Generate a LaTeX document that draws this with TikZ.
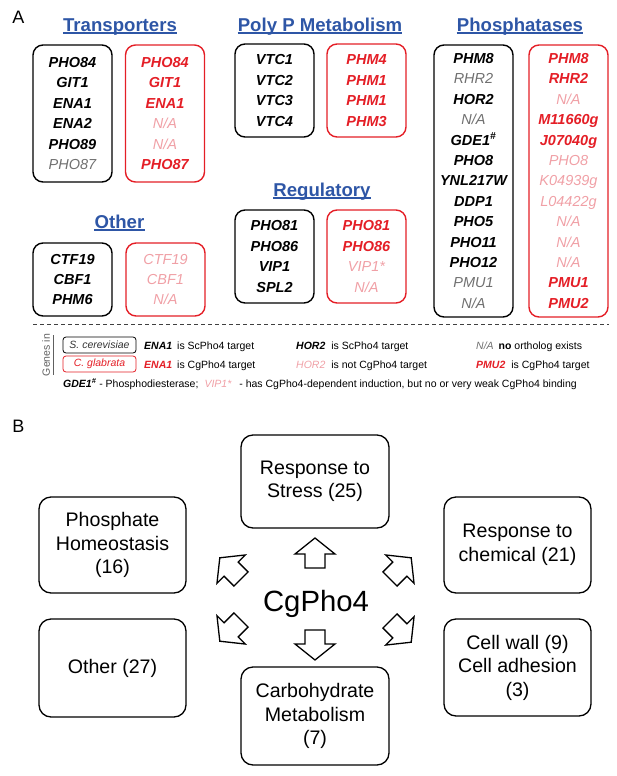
\documentclass[tikz,border=0pt]{standalone}
\usepackage{fontspec}
\setmainfont{Liberation Sans}
\usetikzlibrary{positioning}

\definecolor{hdrblue}{HTML}{2E56A6}
\definecolor{cgred}{HTML}{E41E26}
\definecolor{cgpink}{HTML}{F0A0A6}
\definecolor{scgray}{HTML}{707070}
\definecolor{lgdgray}{HTML}{606060}

\newcommand{\genefont}{\fontsize{14.5}{20.4}\selectfont\bfseries\itshape}
\newcommand{\hdrfont}{\fontsize{18.6}{22}\selectfont\bfseries}
\newcommand{\lgdfont}{\fontsize{10.5}{12.6}\selectfont}
\newcommand{\catfont}{\fontsize{19.6}{23.5}\selectfont}
\newcommand{\bigfont}{\fontsize{29.3}{34}\selectfont}
\newcommand{\nsc}[1]{{\mdseries\color{scgray}#1}}   % not a target, S. cerevisiae
\newcommand{\ncg}[1]{{\mdseries\color{cgpink}#1}}   % not a target, C. glabrata
\newcommand{\blockarrow}[3]{\draw[barrow, shift={(#1,#2)}, rotate=#3]
  (-15,-10) -- (-1,-10) -- (-1,-20) -- (15,0) -- (-1,20) -- (-1,10) -- (-15,10) -- cycle;}

\begin{document}
\begin{tikzpicture}[x=1pt, y=-1pt,
  scbox/.style={draw=black, line width=1.4pt, rounded corners=10pt, minimum width=79pt,
    align=center, font=\genefont, inner sep=0pt},
  cgbox/.style={scbox, draw=cgred, text=cgred},
  hdr/.style={font=\hdrfont, text=hdrblue, inner sep=0pt, anchor=base},
  hdrline/.style={hdrblue, line width=1.4pt},
  lgd/.style={font=\lgdfont, inner sep=0pt, anchor=base west},
  lgdbox/.style={draw, line width=0.8pt, rounded corners=3pt, minimum width=73pt,
    minimum height=16pt, inner sep=0pt, font=\lgdfont\itshape},
  catbox/.style={draw, line width=1.3pt, rounded corners=12pt, align=center,
    font=\catfont, inner sep=0pt},
  barrow/.style={draw, line width=1.3pt, fill=white, line join=miter}]

\useasboundingbox (0,0) rectangle (617,776);

% panel letters
\node[font=\fontsize{18}{20}\selectfont, inner sep=0pt] (pa) at (18.5,17.5) {A};
\node[font=\fontsize{18}{20}\selectfont, inner sep=0pt] (pb) at (18.5,426.5) {B};

% headers
\node[hdr] (trhd) at (120,31.5) {Transporters};
\node[hdr] (pphd) at (320,31.5) {Poly P Metabolism};
\node[hdr] (phhd) at (520,31.5) {Phosphatases};
\node[hdr] (rghd) at (322,196.5) {Regulatory};
\node[hdr] (othd) at (119.5,228.5) {Other};
\foreach \h in {trhd, pphd, phhd, rghd, othd}
  \draw[hdrline] ([yshift=-1.5pt]\h.base west) -- ([yshift=-1.5pt]\h.base east);

% gene boxes
\node[scbox, minimum height=137pt] (trsc) at (72.5,113.5)
  {PHO84\\GIT1\\ENA1\\ENA2\\PHO89\\\nsc{PHO87}};
\node[cgbox, minimum height=137pt] (trcg) at (165,113.5)
  {PHO84\\GIT1\\ENA1\\\ncg{N/A}\\\ncg{N/A}\\PHO87};
\node[scbox, minimum height=93pt] (ppsc) at (274.5,90.5) {VTC1\\VTC2\\VTC3\\VTC4};
\node[cgbox, minimum height=93pt] (ppcg) at (366.5,90.5) {PHM4\\PHM1\\PHM1\\PHM3};
\node[scbox, minimum height=93pt] (rgsc) at (274.5,256.5) {PHO81\\PHO86\\VIP1\\SPL2};
\node[cgbox, minimum height=93pt] (rgcg) at (366.5,256.5)
  {PHO81\\PHO86\\\ncg{VIP1*}\\\ncg{N/A}};
\node[scbox, minimum height=73pt] (otsc) at (72.5,279.5) {CTF19\\CBF1\\PHM6};
\node[cgbox, minimum height=73pt] (otcg) at (165.5,279.5)
  {\ncg{CTF19}\\\ncg{CBF1}\\\ncg{N/A}};
\node[scbox, minimum height=272pt] (phsc) at (473.5,181)
  {PHM8\\\nsc{RHR2}\\HOR2\\\nsc{N/A}\\GDE1\textsuperscript{\#}\\PHO8\\YNL217W\\DDP1\\PHO5\\PHO11\\PHO12\\\nsc{PMU1}\\\nsc{N/A}};
\node[cgbox, minimum height=272pt] (phcg) at (568.5,181)
  {PHM8\\RHR2\\\ncg{N/A}\\M11660g\\J07040g\\\ncg{PHO8}\\\ncg{K04939g}\\\ncg{L04422g}\\\ncg{N/A}\\\ncg{N/A}\\\ncg{N/A}\\PMU1\\PMU2};

% legend
\draw[black!75, line width=0.8pt, dash pattern=on 4pt off 3pt] (33,324) -- (609,324);
\node[font=\lgdfont, text=lgdgray, rotate=90, inner sep=0pt] (genes) at (46,355) {Genes in};
\draw[lgdgray, line width=0.8pt] (53,335) -- (53,375);
\node[lgdbox, text=black!80] (lsc) at (99.5,345) {S. cerevisiae};
\node[lgdbox, draw=cgred, text=cgred] (lcg) at (99.5,364) {C. glabrata};
\node[lgd] (l1a) at (144,349) {\textbf{\textit{ENA1}}\hspace{5pt}is ScPho4 target};
\node[lgd] (l1b) at (296,349) {\textbf{\textit{HOR2}}\hspace{6pt}is ScPho4 target};
\node[lgd] (l1c) at (476,349) {\textit{\color{scgray}N/A}\hspace{5pt}\textbf{no} ortholog exists};
\node[lgd] (l2a) at (144,368) {\textbf{\textit{\color{cgred}ENA1}}\hspace{5pt}is CgPho4 target};
\node[lgd] (l2b) at (296,368) {\textit{\color{cgpink}HOR2}\hspace{6pt}is not CgPho4 target};
\node[lgd] (l2c) at (476,368) {\textbf{\textit{\color{cgred}PMU2}}\hspace{6pt}is CgPho4 target};
\node[lgd] (l3) at (63,387.5) {\textbf{\textit{GDE1\textsuperscript{\#}}} - Phosphodiesterase;\hspace{6pt}\textit{\color{cgpink}VIP1*}\hspace{8pt}- has CgPho4-dependent induction, but no or very weak CgPho4 binding};

% panel B
\node[catbox, minimum width=148pt, minimum height=93pt] (stress) at (315,481.5) {Response to\\Stress (25)};
\node[catbox, minimum width=147pt, minimum height=96pt] (phos) at (112.5,545) {Phosphate\\Homeostasis\\(16)};
\node[catbox, minimum width=147pt, minimum height=96pt] (chem) at (517.5,545) {Response to\\chemical (21)};
\node[catbox, minimum width=147pt, minimum height=98pt] (other) at (112.5,668) {Other (27)};
\node[catbox, minimum width=148pt, minimum height=98pt] (carb) at (315,716) {Carbohydrate\\Metabolism\\(7)};
\node[catbox, minimum width=147pt, minimum height=97pt] (cell) at (517.5,667.5) {Cell wall (9)\\Cell adhesion\\(3)};
\node[font=\bigfont, inner sep=0pt, anchor=base] (cg) at (316,611) {CgPho4};

\blockarrow{315}{553}{90}
\blockarrow{315}{645}{-90}
\blockarrow{230.4}{568.4}{135}
\blockarrow{230.4}{630.6}{225}
\blockarrow{400.6}{568.4}{45}
\blockarrow{400.6}{631.6}{-45}
\end{tikzpicture}
\end{document}
